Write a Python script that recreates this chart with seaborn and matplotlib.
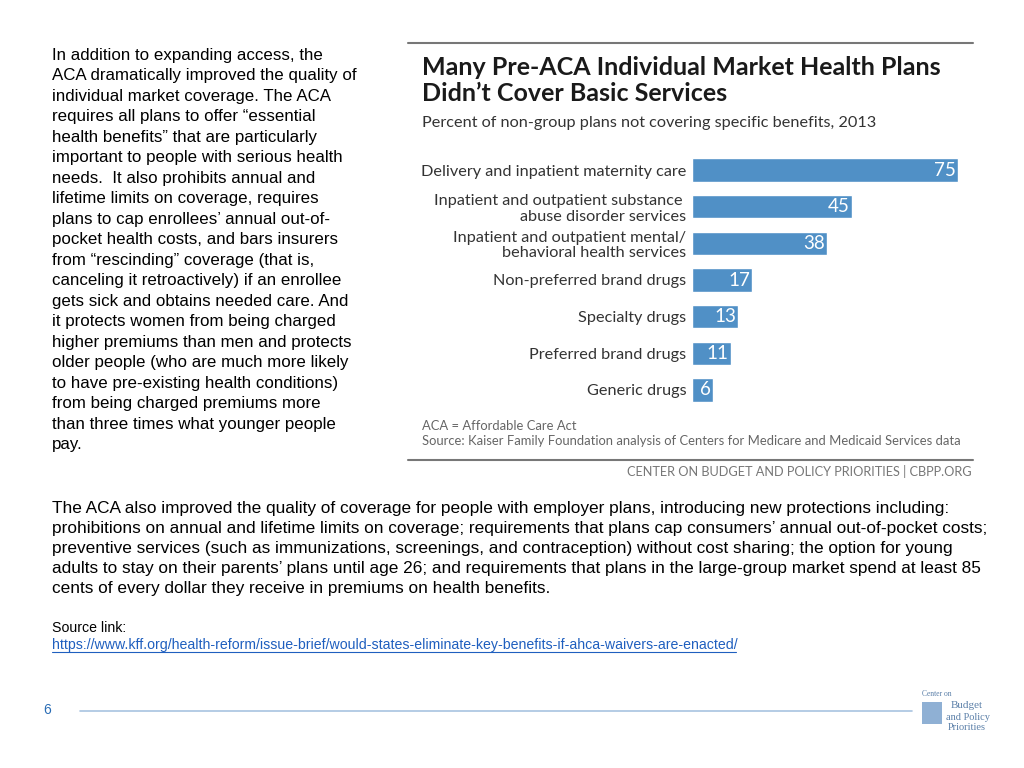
import matplotlib
matplotlib.use("Agg")
import matplotlib.pyplot as plt
import seaborn as sns
import pandas as pd
from matplotlib.lines import Line2D

categories = [
    "Delivery and inpatient maternity care",
    "Inpatient and outpatient substance \nabuse disorder services",
    "Inpatient and outpatient mental/\nbehavioral health services",
    "Non-preferred brand drugs",
    "Specialty drugs",
    "Preferred brand drugs",
    "Generic drugs",
]
values = [75, 45, 38, 17, 13, 11, 6]

title = "Many Pre-ACA Individual Market Health Plans\nDidn\u2019t Cover Basic Services"
subtitle = "Percent of non-group plans not covering specific benefits, 2013"
note1 = "ACA = Affordable Care Act"
note2 = "Source: Kaiser Family Foundation analysis of Centers for Medicare and Medicaid Services data"
credit = "CENTER ON BUDGET AND POLICY PRIORITIES | CBPP.ORG"

left_text = [
    "In addition to expanding access, the",
    "ACA dramatically improved the quality of",
    "individual market coverage. The ACA",
    "requires all plans to offer \u201cessential",
    "health benefits\u201d that are particularly",
    "important to people with serious health",
    "needs.  It also prohibits annual and",
    "lifetime limits on coverage, requires",
    "plans to cap enrollees\u2019 annual out-of-",
    "pocket health costs, and bars insurers",
    "from \u201crescinding\u201d coverage (that is,",
    "canceling it retroactively) if an enrollee",
    "gets sick and obtains needed care. And",
    "it protects women from being charged",
    "higher premiums than men and protects",
    "older people (who are much more likely",
    "to have pre-existing health conditions)",
    "from being charged premiums more",
    "than three times what younger people",
    "pay.",
]
bottom_text = [
    "The ACA also improved the quality of coverage for people with employer plans, introducing new protections including:",
    "prohibitions on annual and lifetime limits on coverage; requirements that plans cap consumers\u2019 annual out-of-pocket costs;",
    "preventive services (such as immunizations, screenings, and contraception) without cost sharing; the option for young",
    "adults to stay on their parents\u2019 plans until age 26; and requirements that plans in the large-group market spend at least 85",
    "cents of every dollar they receive in premiums on health benefits.",
]
source_label = "Source link:"
source_url = "https://www.kff.org/health-reform/issue-brief/would-states-eliminate-key-benefits-if-ahca-waivers-are-enacted/"
page_no = "6"

sns.set_theme(style="white")
plt.rcParams['font.family'] = ['Lato', 'DejaVu Sans']

W, H = 1024, 768
fig = plt.figure(figsize=(10.24, 7.68), dpi=100)
fig.patch.set_facecolor("white")

def fx(px):
    return px / W

def fy(py):
    return 1 - py / H

ARIAL = ["Liberation Sans", "DejaVu Sans"]

# bar chart axes
ax = fig.add_axes([fx(692), fy(408.3), fx(283.8), (408.3 - 151.7) / H])
df = pd.DataFrame({"cat": categories, "val": values})
sns.barplot(data=df, x="val", y="cat", orient="h", color="#5090c6",
            saturation=1, width=0.64, ax=ax)
ax.set_xlim(0, 80)
ax.set_xlabel("")
ax.set_ylabel("")
ax.set_xticks([])
for s in ax.spines.values():
    s.set_visible(False)
ax.tick_params(axis="y", length=0, pad=4)
for lbl in ax.get_yticklabels():
    lbl.set_fontsize(11.7)
    lbl.set_color("#333333")
    lbl.set_multialignment("right")
    lbl.set_linespacing(1.15)
for i, v in enumerate(values):
    ax.text(v - 0.6, i, str(v), ha="right", va="center", color="white", fontsize=13.5)

# chart frame lines
fig.add_artist(Line2D([fx(408), fx(973)], [fy(43), fy(43)], color="#777777", lw=1.5))
fig.add_artist(Line2D([fx(408), fx(973)], [fy(460), fy(460)], color="#777777", lw=1.5))

fig.text(fx(422), fy(56), title, ha="left", va="top", fontsize=18, fontweight="bold",
         color="#1a1a1a", linespacing=1.16)
fig.text(fx(422), fy(123), subtitle, ha="left", va="center", fontsize=11.7, color="#333333")
fig.text(fx(422), fy(426), note1, ha="left", va="center", fontsize=9.4, color="#666666")
fig.text(fx(422), fy(441), note2, ha="left", va="center", fontsize=9.4, color="#666666")
fig.text(fx(972), fy(472), credit, ha="right", va="center", fontsize=9.2, color="#777777")

# slide text
fig.text(fx(52), fy(48), "\n".join(left_text), ha="left", va="top",
         fontsize=12.2, family=ARIAL, color="black", linespacing=1.457)
fig.text(fx(52), fy(501), "\n".join(bottom_text), ha="left", va="top",
         fontsize=12.4, family=ARIAL, color="black", linespacing=1.42)
fig.text(fx(52), fy(628), source_label, ha="left", va="center", fontsize=10.2,
         family=ARIAL, color="black")
fig.text(fx(52), fy(645), source_url, ha="left", va="center", fontsize=10.2,
         family=ARIAL, color="#1f5fbf")
fig.add_artist(Line2D([fx(52), fx(736)], [fy(652), fy(652)], color="#1f5fbf", lw=0.8))

# footer
fig.text(fx(47), fy(710), page_no, ha="center", va="center", fontsize=10,
         family=ARIAL, color="#2a6db5")
fig.add_artist(Line2D([fx(80), fx(912)], [fy(711), fy(711)], color="#a8c4e0", lw=1.2))
SERIF = ["Liberation Serif", "DejaVu Serif"]
fig.text(fx(922), fy(694), "Center on", ha="left", va="center", fontsize=5.5,
         family=SERIF, color="#5a7fa8")
fig.text(fx(951), fy(706), "Budget", ha="left", va="center", fontsize=8,
         family=SERIF, color="#5a7fa8")
fig.text(fx(946), fy(717), "and Policy", ha="left", va="center", fontsize=7.5,
         family=SERIF, color="#5a7fa8")
fig.text(fx(948), fy(727), "Priorities", ha="left", va="center", fontsize=7.5,
         family=SERIF, color="#5a7fa8")
fig.add_artist(plt.Rectangle((fx(922), fy(724)), fx(20), 22 / H, color="#8fb0d4", lw=0))

fig.savefig("out.png", dpi=100, facecolor="white")
